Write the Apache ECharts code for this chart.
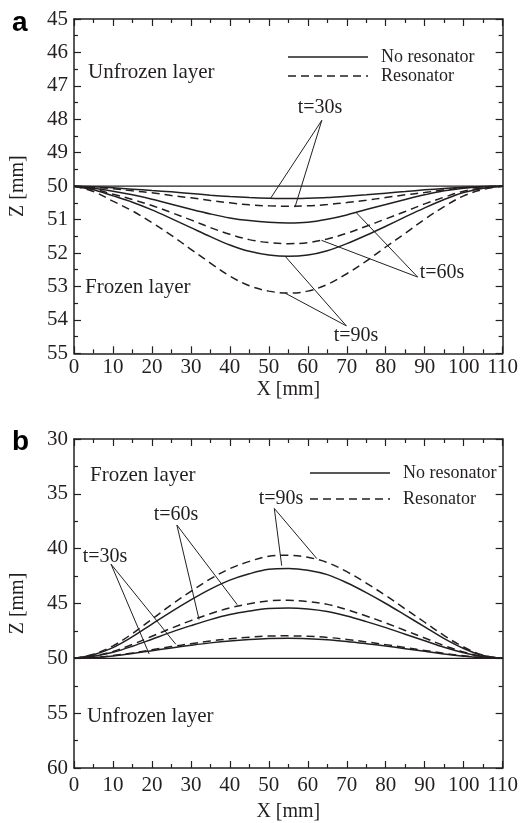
<!DOCTYPE html>
<html>
<head>
<meta charset="utf-8">
<script src="https://cdn.jsdelivr.net/npm/echarts@6/dist/echarts.min.js"></script>
<style>
html,body{margin:0;padding:0;background:#fff;}
#chart{width:521px;height:823px;}
</style>
</head>
<body>
<div id="chart"></div>
<script>
// ---------- data ----------
var xValues = [0,5,10,15,20,25,30,35,40,45,50,55,60,65,70,75,80,85,90,95,100,105,110];

// panel a (Z, mm)
var aSolid30 = [50,50.02,50.05,50.09,50.13,50.17,50.22,50.27,50.31,50.34,50.36,50.37,50.36,50.34,50.30,50.26,50.21,50.16,50.11,50.07,50.03,50.01,50];
var aDash30  = [50,50.03,50.08,50.14,50.20,50.28,50.35,50.43,50.50,50.56,50.59,50.60,50.59,50.55,50.49,50.42,50.34,50.26,50.19,50.11,50.05,50.02,50];
var aSolid60 = [50,50.06,50.15,50.26,50.39,50.54,50.69,50.83,50.95,51.03,51.08,51.10,51.08,50.99,50.86,50.70,50.55,50.40,50.26,50.14,50.06,50.02,50];
var aDash60  = [50,50.09,50.24,50.40,50.58,50.79,51.01,51.24,51.44,51.60,51.69,51.72,51.69,51.58,51.41,51.20,50.98,50.76,50.53,50.33,50.15,50.05,50];
var aSolid90 = [50,50.11,50.29,50.48,50.71,50.97,51.24,51.51,51.76,51.95,52.06,52.10,52.06,51.93,51.72,51.47,51.20,50.92,50.65,50.40,50.19,50.06,50];
var aDash90  = [50,50.16,50.45,50.74,51.09,51.47,51.89,52.30,52.69,52.98,53.14,53.20,53.14,52.94,52.62,52.24,51.82,51.41,50.99,50.61,50.29,50.10,50];

// panel b (Z, mm)
var bSolid30 = [50,49.93,49.78,49.56,49.30,49.05,48.81,48.59,48.41,48.28,48.19,48.17,48.21,48.30,48.46,48.66,48.88,49.12,49.36,49.60,49.80,49.95,50];
var bDash30  = [50,49.92,49.75,49.51,49.22,48.93,48.67,48.42,48.22,48.07,47.97,47.95,47.99,48.09,48.28,48.50,48.75,49.02,49.28,49.55,49.77,49.94,50];
var bSolid60 = [50,49.82,49.45,48.90,48.26,47.61,47.02,46.47,46.01,45.69,45.46,45.41,45.50,45.73,46.14,46.65,47.20,47.80,48.39,48.99,49.50,49.86,50];
var bDash60  = [50,49.79,49.37,48.73,47.99,47.25,46.56,45.93,45.40,45.03,44.76,44.71,44.82,45.08,45.56,46.14,46.77,47.46,48.15,48.84,49.42,49.84,50];
var bSolid90 = [50,49.67,49.02,48.03,46.88,45.74,44.67,43.69,42.87,42.29,41.88,41.80,41.96,42.37,43.11,44.01,45.00,46.06,47.13,48.20,49.10,49.75,50];
var bDash90  = [50,49.62,48.87,47.74,46.43,45.11,43.89,42.76,41.82,41.16,40.69,40.60,40.79,41.26,42.10,43.14,44.27,45.49,46.71,47.93,48.97,49.72,50];

var baseX = [0,110];
var baseZ = [50,50];

// leader lines (data coordinates: [X, Z] pairs)
var leadersA = [
  [[63.6,48.03],[50.4,50.37]], [[63.6,48.03],[56.7,50.63]],
  [[88.2,52.72],[72.5,50.80]], [[88.2,52.72],[63.5,51.62]],
  [[69.9,54.18],[54.2,52.10]], [[69.9,54.18],[54.2,53.20]]
];
var leadersB = [
  [[51.4,36.33],[53.3,41.55]], [[51.4,36.33],[62.3,40.90]],
  [[26.4,37.84],[32.1,46.46]], [[26.4,37.84],[41.9,45.11]],
  [[9.5,41.41],[19.3,49.61]], [[9.5,41.41],[26.1,48.71]]
];

var legendNames = ['No resonator','Resonator'];

// ---------- chart ----------
var FONT = 'Liberation Serif';
var INK = '#231f20';
var chart = echarts.init(document.getElementById('chart'), null, {renderer:'canvas'});

function pairs(ys){ return xValues.map(function(x,i){ return [x, ys[i]]; }); }

function curve(name, ys, dashed, gi){
  return {
    type:'line', name:name, data:pairs(ys), xAxisIndex:gi*2, yAxisIndex:gi*2,
    symbol:'none', smooth:0.35, silent:true, animation:false,
    lineStyle:{color:INK, width:1.5, type: dashed ? [8,5] : 'solid'},
    itemStyle:{color:INK}, z:3
  };
}
function leaderSeries(list, gi){
  return {
    type:'line', name:'leaders'+gi, data:[], xAxisIndex:gi*2, yAxisIndex:gi*2,
    symbol:'none', silent:true, animation:false,
    markLine:{
      silent:true, symbol:['none','none'], animation:false,
      label:{show:false},
      lineStyle:{color:INK, width:1, type:'solid'},
      data: list.map(function(seg){ return [{coord:seg[0]},{coord:seg[1]}]; })
    }
  };
}

function xAx(gi, pos, showLabels){
  return {
    type:'value', gridIndex:gi, position:pos, min:0, max:110, interval:10,
    axisLine:{show:true, onZero:false, lineStyle:{color:INK, width:1.5}},
    axisTick:{show:true, inside:true, length:7, lineStyle:{color:INK, width:1.2}},
    minorTick:{show:true, splitNumber:2, length:4, lineStyle:{color:INK, width:1.2}},
    splitLine:{show:false},
    axisLabel:{show:showLabels, color:INK, fontFamily:FONT, fontSize:21, margin: gi===0 ? 4 : 7},
    name: showLabels ? 'X [mm]' : '', nameLocation:'middle', nameGap: gi===0 ? 26 : 34,
    nameTextStyle:{color:INK, fontFamily:FONT, fontSize:20}
  };
}
function yAx(gi, pos, showLabels, mn, mx, iv){
  return {
    type:'value', gridIndex:gi, position:pos, min:mn, max:mx, interval:iv, inverse:true,
    axisLine:{show:true, onZero:false, lineStyle:{color:INK, width:1.5}},
    axisTick:{show:true, inside:true, length:7, lineStyle:{color:INK, width:1.2}},
    minorTick:{show:true, splitNumber:2, length:4, lineStyle:{color:INK, width:1.2}},
    splitLine:{show:false},
    axisLabel:{show:showLabels, color:INK, fontFamily:FONT, fontSize:21, margin:6},
    name: showLabels ? 'Z [mm]' : '', nameLocation:'middle', nameGap:46, nameRotate:90,
    nameTextStyle:{color:INK, fontFamily:FONT, fontSize:20}
  };
}

function txt(s, x, y, size, align){
  return {type:'text', x:x, y:y, silent:true, z:10,
    style:{text:s, fill:INK, font: (size||20)+'px "'+FONT+'"', align:align||'left', verticalAlign:'middle'}};
}

var option = {
  backgroundColor:'#fff',
  animation:false,
  grid:[
    {left:72.6, top:19, width:431, height:334.3, containLabel:false},
    {left:72.6, top:439, width:431, height:334.3, containLabel:false}
  ],
  xAxis:[ xAx(0,'bottom',true), xAx(0,'top',false), xAx(1,'bottom',true), xAx(1,'top',false) ],
  yAxis:[ yAx(0,'left',true,45,55,1), yAx(0,'right',false,45,55,1),
          yAx(1,'left',true,30,60,5), yAx(1,'right',false,30,60,5) ],
  series:[
    {type:'line', name:'base-a', data:baseX.map(function(x,i){return [x,baseZ[i]];}), xAxisIndex:0, yAxisIndex:0,
     symbol:'none', silent:true, lineStyle:{color:INK,width:1.2}},
    curve('No resonator', aSolid30, false, 0),
    curve('Resonator',    aDash30,  true,  0),
    curve('No resonator', aSolid60, false, 0),
    curve('Resonator',    aDash60,  true,  0),
    curve('No resonator', aSolid90, false, 0),
    curve('Resonator',    aDash90,  true,  0),
    leaderSeries(leadersA, 0),
    {type:'line', name:'base-b', data:baseX.map(function(x,i){return [x,baseZ[i]];}), xAxisIndex:2, yAxisIndex:2,
     symbol:'none', silent:true, lineStyle:{color:INK,width:1.2}},
    curve('No resonator', bSolid30, false, 1),
    curve('Resonator',    bDash30,  true,  1),
    curve('No resonator', bSolid60, false, 1),
    curve('Resonator',    bDash60,  true,  1),
    curve('No resonator', bSolid90, false, 1),
    curve('Resonator',    bDash90,  true,  1),
    leaderSeries(leadersB, 1)
  ],
  graphic:[
    // legend a
    {type:'line', silent:true, shape:{x1:288,y1:57,x2:368,y2:57}, style:{stroke:INK,lineWidth:1.5}},
    {type:'line', silent:true, shape:{x1:288,y1:76,x2:368,y2:76}, style:{stroke:INK,lineWidth:1.5,lineDash:[8,5]}},
    txt(legendNames[0], 381, 57, 18),
    txt(legendNames[1], 381, 76, 18),
    // legend b
    {type:'line', silent:true, shape:{x1:310,y1:473,x2:390,y2:473}, style:{stroke:INK,lineWidth:1.5}},
    {type:'line', silent:true, shape:{x1:310,y1:499,x2:390,y2:499}, style:{stroke:INK,lineWidth:1.5,lineDash:[8,5]}},
    txt(legendNames[0], 403, 473, 18),
    txt(legendNames[1], 403, 499, 18),
    // panel letters
    {type:'text', x:12, y:9, silent:true, style:{text:'a', fill:'#000', font:'bold 28px "Liberation Sans"'}},
    {type:'text', x:12, y:428, silent:true, style:{text:'b', fill:'#000', font:'bold 28px "Liberation Sans"'}},
    // region labels
    txt('Unfrozen layer', 88, 72, 21),
    txt('Frozen layer', 85, 287, 21),
    txt('Frozen layer', 90, 475, 21),
    txt('Unfrozen layer', 87, 716, 21),
    // time labels
    txt('t=30s', 320, 108, 20, 'center'),
    txt('t=60s', 442, 273, 20, 'center'),
    txt('t=90s', 356, 336, 20, 'center'),
    txt('t=90s', 281, 499, 20, 'center'),
    txt('t=60s', 176, 515, 20, 'center'),
    txt('t=30s', 105, 557, 20, 'center')
  ]
};
chart.setOption(option);
</script>
</body>
</html>
